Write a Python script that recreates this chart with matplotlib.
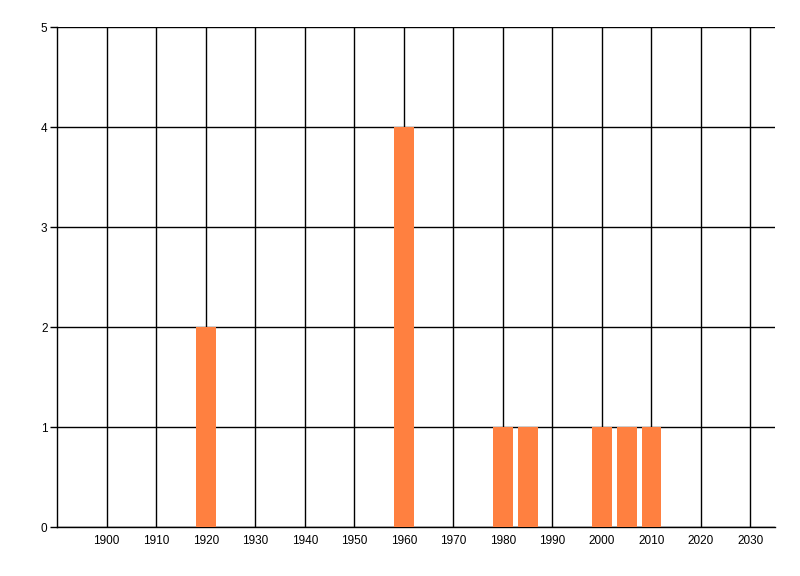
import matplotlib
matplotlib.use("Agg")
import matplotlib.pyplot as plt

# dane: rok -> liczba
years = [1920, 1960, 1980, 1985, 2000, 2005, 2010]
counts = [2, 4, 1, 1, 1, 1, 1]
x_ticks = list(range(1900, 2031, 10))
y_ticks = [0, 1, 2, 3, 4, 5]


def make_plot():
	plt.rcParams["font.family"] = ["Liberation Sans", "DejaVu Sans"]
	fig = plt.figure(figsize=(8, 5.76), dpi=100)
	ax = fig.add_axes([0.0715, 0.085, 0.8975, 0.868])

	ax.bar(years, counts, width=4, color="#FF8040", zorder=3)

	ax.set_xlim(1890, 2035)
	ax.set_ylim(0, 5)
	ax.set_xticks(x_ticks)
	ax.set_yticks(y_ticks)
	ax.grid(True, color="black", linewidth=1, zorder=1)
	ax.set_axisbelow(True)

	for side in ["top", "right"]:
		ax.spines[side].set_visible(False)
	for side in ["left", "bottom"]:
		ax.spines[side].set_linewidth(1)
		ax.spines[side].set_color("black")

	ax.tick_params(axis="x", length=0, pad=6, labelsize=8.5)
	ax.tick_params(axis="y", length=5, width=1, pad=2, labelsize=8.5)

	fig.savefig("out.png", dpi=100)


if __name__ == "__main__":
	make_plot()
